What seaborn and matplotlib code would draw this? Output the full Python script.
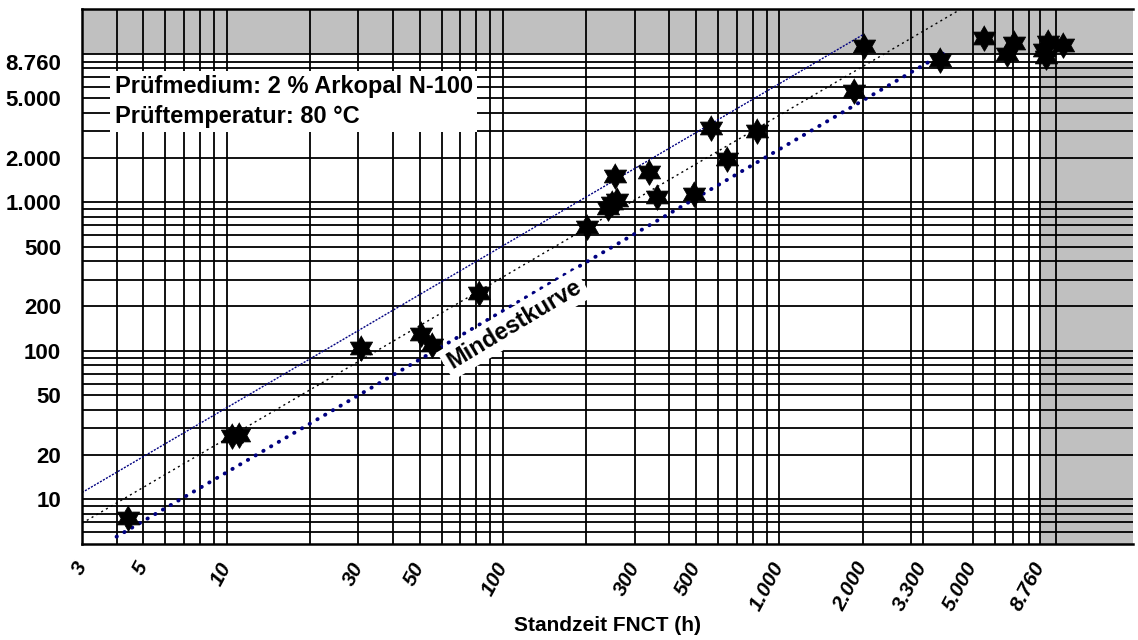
import numpy as np
import pandas as pd
import matplotlib
matplotlib.use("Agg")
import matplotlib.pyplot as plt
from matplotlib.ticker import NullFormatter
import seaborn as sns

# Messpunkte
fnct_h = [4.4, 10.5, 11.1, 30.6, 50.6, 55.4, 81.7, 202, 239, 247, 258, 254, 337, 361,
          490, 567, 645, 832, 1858, 2026, 3809, 5505, 6632, 7058, 9060, 9350, 9200, 10580]
standzeit_h = [7.5, 26.6, 27, 104, 129, 109, 245, 680, 910, 985, 1030, 1500, 1600, 1085,
               1145, 3180, 1970, 3010, 5620, 11230, 9040, 12660, 10030, 11820, 10560, 12010, 9430, 11410]

# Geraden (Endpunkte)
obere_x = [3, 2000]
obere_y = [11.1, 13400]
mittel_x = [3, 4600]
mittel_y = [6.9, 20300]
mindest_x = [4, 3900]
mindest_y = [5.6, 10000]

x_ticks = [3, 5, 10, 30, 50, 100, 300, 500, 1000, 2000, 3300, 5000, 8760]
x_ticklabels = ["3", "5", "10", "30", "50", "100", "300", "500", "1.000", "2.000", "3.300", "5.000", "8.760"]
x_grid = [4, 6, 7, 8, 9, 20, 40, 60, 70, 80, 90, 200, 400, 600, 700, 800, 900,
          3000, 6000, 7000, 8000, 10000]
y_ticks = [10, 20, 50, 100, 200, 500, 1000, 2000, 5000, 8760]
y_ticklabels = ["10", "20", "50", "100", "200", "500", "1.000", "2.000", "5.000", "8.760"]
y_grid = [6, 7, 8, 9, 30, 40, 60, 70, 80, 90, 300, 400, 600, 700, 800, 900,
          3000, 4000, 6000, 7000, 8000, 10000]

XLIM = (3, 19000)
YLIM = (5, 20000)
GRAU = "#c0c0c0"
BLAU = "#000080"

sns.set_style("white")
plt.rcParams["font.family"] = ["Liberation Sans", "DejaVu Sans"]
plt.rcParams["text.color"] = "black"
plt.rcParams["axes.labelcolor"] = "black"
plt.rcParams["xtick.color"] = "black"
plt.rcParams["ytick.color"] = "black"

df = pd.DataFrame({"fnct": fnct_h, "standzeit": standzeit_h})

fig = plt.figure(figsize=(11.38, 6.4), dpi=100)
ax = fig.add_axes([82 / 1138, 96 / 640, 1051 / 1138, 535 / 640])
ax.set_xscale("log")
ax.set_yscale("log")
ax.set_xlim(*XLIM)
ax.set_ylim(*YLIM)

# graue Bereiche
ax.axhspan(10000, YLIM[1], color=GRAU, lw=0, zorder=0.2)
ax.fill_between([8760, XLIM[1]], YLIM[0], 8760, color=GRAU, lw=0, zorder=0.2)

# Gitter
ax.set_xticks(x_ticks)
ax.set_xticks(x_grid, minor=True)
ax.set_yticks(y_ticks)
ax.set_yticks(y_grid, minor=True)
ax.xaxis.set_minor_formatter(NullFormatter())
ax.yaxis.set_minor_formatter(NullFormatter())
ax.set_axisbelow(True)
ax.grid(which="both", color="black", lw=1.3)
ax.tick_params(which="both", length=0)

# Linien
sns.lineplot(x=obere_x, y=obere_y, ax=ax, color=BLAU, lw=1.0,
             linestyle=(0, (1.5, 1)), zorder=2)
sns.lineplot(x=mittel_x, y=mittel_y, ax=ax, color="black", lw=1.0,
             linestyle=(0, (1.5, 2.5)), zorder=2)
sns.lineplot(x=mindest_x, y=mindest_y, ax=ax, color=BLAU, lw=2.8,
             linestyle=(0, (0.1, 2.2)), dash_capstyle="round", zorder=2)

# Sternmarker (Hexagramm)
ang = np.deg2rad(90 + 30 * np.arange(12))
rad = np.where(np.arange(12) % 2 == 0, 1.0, 0.577)
hexagramm = np.column_stack([rad * np.cos(ang), rad * np.sin(ang)])
sns.scatterplot(data=df, x="fnct", y="standzeit", ax=ax, marker=hexagramm,
                s=340, color="black", edgecolor="black", linewidth=0.6, zorder=3)

ax.set_xticklabels(x_ticklabels, rotation=62, ha="right", va="center",
                   rotation_mode="anchor", fontweight="bold", fontstyle="italic", fontsize=15)
ax.set_yticklabels(y_ticklabels, fontweight="bold", fontsize=16)
ax.tick_params(axis="x", pad=14)
ax.tick_params(axis="y", pad=15)

ax.set_xlabel("Standzeit FNCT (h)", fontweight="bold", fontsize=15)
ax.xaxis.set_label_coords(0.5, -0.134)
ax.set_ylabel("")

for side in ["left", "bottom", "top"]:
    ax.spines[side].set_color("black")
    ax.spines[side].set_linewidth(1.8)
ax.spines["right"].set_visible(False)

ax.text(0.031, 0.827, "Prüfmedium: 2 % Arkopal N-100\nPrüftemperatur: 80 °C",
        transform=ax.transAxes, ha="left", va="center", fontsize=17, fontweight="bold",
        linespacing=1.35, zorder=4,
        bbox=dict(boxstyle="square,pad=0.2", facecolor="white", edgecolor="none"))

ax.text(110, 150, "Mindestkurve", rotation=31, ha="center", va="center",
        rotation_mode="anchor", fontsize=17, fontweight="bold", zorder=4,
        bbox=dict(boxstyle="square,pad=0.2", facecolor="white", edgecolor="none"))

fig.savefig("out.png", dpi=100)
